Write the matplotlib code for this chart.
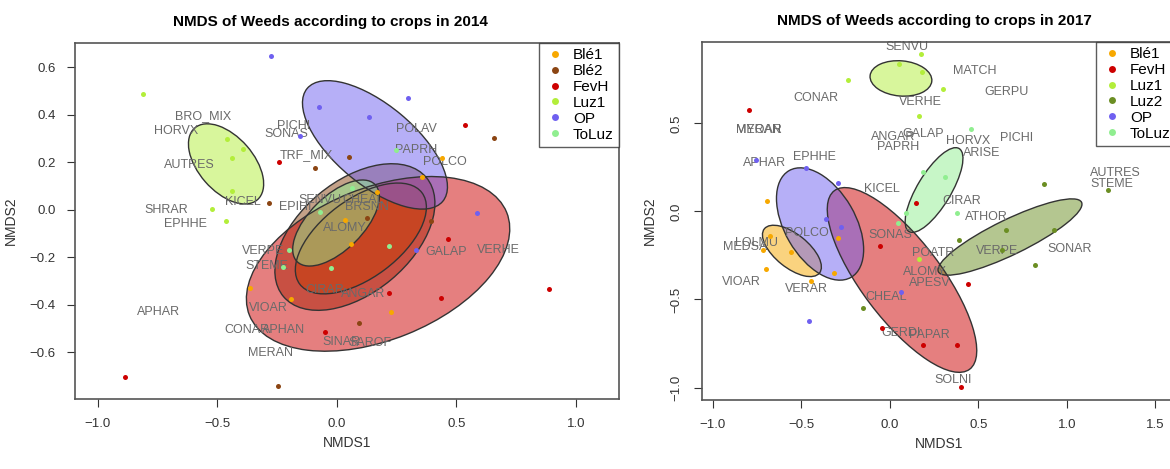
import matplotlib
matplotlib.use("Agg")
import matplotlib.pyplot as plt
from matplotlib.patches import Ellipse
from matplotlib.lines import Line2D

plt.rcParams['font.family'] = ['Liberation Sans', 'DejaVu Sans']

COLORS = {'Blé1': '#F7A800', 'Blé2': '#8B4513', 'FevH': '#CD0000',
          'Luz1': '#B3EE3A', 'Luz2': '#6B8E23', 'OP': '#6F60F0',
          'ToLuz': '#90EE90'}

# ---- 2014 ----
groups_2014 = ['Blé1', 'Blé2', 'FevH', 'Luz1', 'OP', 'ToLuz']
site_grp_2014 = (['Blé1'] * 8 + ['Blé2'] * 8 + ['FevH'] * 8 + ['Luz1'] * 7
                 + ['OP'] * 7 + ['ToLuz'] * 7)
site_x_2014 = [0.441, 0.354, 0.169, 0.033, 0.059, -0.364, -0.193, 0.226,
               -0.285, -0.092, 0.05, 0.658, 0.124, 0.392, 0.093, -0.245,
               -0.243, 0.536, 0.464, 0.219, 0.437, 0.888, -0.05, -0.886,
               -0.812, -0.46, -0.395, -0.438, -0.44, -0.523, -0.464,
               -0.275, -0.155, -0.077, 0.133, 0.298, 0.585, 0.329,
               0.245, 0.061, -0.071, -0.2, -0.227, -0.026, 0.216]
site_y_2014 = [0.22, 0.138, 0.074, -0.042, -0.143, -0.33, -0.375, -0.428,
               0.03, 0.175, 0.224, 0.302, -0.035, -0.045, -0.476, -0.74,
               0.202, 0.358, -0.121, -0.348, -0.372, -0.333, -0.515, -0.703,
               0.49, 0.30, 0.257, 0.22, 0.08, 0.003, -0.045,
               0.65, 0.31, 0.434, 0.393, 0.473, -0.011, -0.17,
               0.253, 0.091, -0.007, -0.17, -0.239, -0.246, -0.152]

# ellipses (group order)
ell_x_2014 = [0.10, 0.075, 0.172, -0.464, 0.159, -0.004]
ell_y_2014 = [-0.12, -0.114, -0.227, 0.194, 0.274, -0.055]
ell_w_2014 = [0.64, 0.78, 1.16, 0.40, 0.74, 0.46]
ell_h_2014 = [0.33, 0.47, 0.64, 0.23, 0.336, 0.226]
ell_a_2014 = [37, 40, 22, -49, -40, 45]

species_2014 = ['BRO_MIX', 'HORVX', 'PICHI', 'SONAS', 'AUTRES', 'TRF_MIX',
                'SHRAR', 'EPHHE', 'KICEL', 'EPIHI', 'SENVU', 'CHEAL', 'BRSNN',
                'ALOMY', 'POLAV', 'PAPRH', 'POLCO', 'GALAP', 'VERHE', 'VERPE',
                'STEME', 'CIRAR', 'ANGAR', 'VIOAR', 'CONAR', 'APHAN', 'MERAN',
                'APHAR', 'SINAR', 'SAROF']
sp_x_2014 = [-0.562, -0.671, -0.183, -0.21, -0.618, -0.127, -0.713, -0.632,
             -0.395, -0.175, -0.071, 0.11, 0.124, 0.033, 0.333, 0.333, 0.452,
             0.459, 0.675, -0.308, -0.294, -0.05, 0.11, -0.287, -0.378,
             -0.225, -0.28, -0.748, 0.02, 0.14]
sp_y_2014 = [0.396, 0.333, 0.355, 0.32, 0.189, 0.229, 0.0, -0.059, 0.032,
             0.013, 0.042, 0.042, 0.011, -0.077, 0.34, 0.253, 0.202, -0.178,
             -0.168, -0.171, -0.234, -0.337, -0.355, -0.414, -0.505, -0.505,
             -0.604, -0.428, -0.554, -0.561]

# ---- 2017 ----
groups_2017 = ['Blé1', 'FevH', 'Luz1', 'Luz2', 'OP', 'ToLuz']
site_grp_2017 = (['Blé1'] * 8 + ['FevH'] * 8 + ['Luz1'] * 7 + ['Luz2'] * 8
                 + ['OP'] * 7 + ['ToLuz'] * 6)
site_x_2017 = [-0.693, -0.678, -0.716, -0.559, -0.295, -0.702, -0.446, -0.315,
               -0.797, 0.147, -0.056, -0.047, 0.439, 0.185, 0.38, 0.404,
               -0.235, 0.051, 0.173, 0.183, 0.298, 0.166, 0.164,
               0.87, 1.232, 0.655, 0.927, 0.392, 0.635, 0.819, -0.151,
               -0.759, -0.476, -0.295, -0.362, -0.277, -0.458, 0.06,
               0.456, 0.185, 0.311, 0.09, 0.047, 0.377]
site_y_2017 = [0.061, -0.139, -0.219, -0.232, -0.149, -0.328, -0.395, -0.351,
               0.575, 0.047, -0.194, -0.66, -0.414, -0.76, -0.76, -0.995,
               0.747, 0.836, 0.893, 0.794, 0.694, 0.543, -0.27,
               0.155, 0.122, -0.105, -0.105, -0.162, -0.219, -0.306, -0.55,
               0.293, 0.249, 0.164, -0.044, -0.086, -0.62, -0.456,
               0.469, 0.226, 0.198, -0.007, -0.067, -0.01]

ell_x_2017 = [-0.554, 0.068, 0.062, 0.678, -0.395, 0.249]
ell_y_2017 = [-0.224, -0.389, 0.756, -0.145, -0.071, 0.122]
ell_w_2017 = [0.40, 1.27, 0.35, 0.90, 0.70, 0.55]
ell_h_2017 = [0.19, 0.45, 0.20, 0.20, 0.40, 0.19]
ell_a_2017 = [-39, -53, -5, 26, -60, 59]

species_2017 = ['SENVU', 'MATCH', 'GERPU', 'CONAR', 'VERHE', 'MERAN', 'MYOAR',
                'APHAR', 'EPHHE', 'ANGAR', 'GALAP', 'PAPRH', 'HORVX', 'ARISE',
                'PICHI', 'AUTRES', 'STEME', 'KICEL', 'CIRAR', 'ATHOR', 'VERPE',
                'SONAR', 'POLCO', 'LOLMU', 'MEDSA', 'VIOAR', 'VERAR', 'SONAS',
                'POATR', 'ALOMY', 'APESV', 'CHEAL', 'GERDI', 'PAPAR', 'SOLNI']
sp_x_2017 = [0.096, 0.48, 0.659, -0.42, 0.169, -0.744, -0.74, -0.706, -0.429,
             0.019, 0.188, 0.047, 0.442, 0.518, 0.716, 1.271, 1.252, -0.043,
             0.405, 0.546, 0.603, 1.017, -0.471, -0.753, -0.819, -0.838,
             -0.471, 0.0, 0.245, 0.198, 0.226, -0.019, 0.06, 0.22, 0.358]
sp_y_2017 = [0.934, 0.80, 0.679, 0.643, 0.624, 0.463, 0.463, 0.277, 0.311,
             0.425, 0.439, 0.365, 0.40, 0.33, 0.416, 0.217, 0.156, 0.128,
             0.061, -0.03, -0.223, -0.215, -0.124, -0.177, -0.203, -0.399,
             -0.442, -0.134, -0.238, -0.342, -0.408, -0.484, -0.69, -0.70,
             -0.957]


def draw_panel(ax, title, groups, grp, xs, ys, ex, ey, ew, eh, ea,
               species, spx, spy):
    for g, cx, cy, w, h, a in zip(groups, ex, ey, ew, eh, ea):
        ax.add_patch(Ellipse((cx, cy), w, h, angle=a, facecolor=COLORS[g],
                             alpha=0.5, edgecolor='none', zorder=1))
        ax.add_patch(Ellipse((cx, cy), w, h, angle=a, facecolor='none',
                             edgecolor='#333333', lw=1.0, zorder=1.5))
    for g in groups:
        px = [x for x, gg in zip(xs, grp) if gg == g]
        py = [y for y, gg in zip(ys, grp) if gg == g]
        ax.plot(px, py, 'o', ms=3.6, color=COLORS[g], mec='none', zorder=3)
    for s, x, y in zip(species, spx, spy):
        ax.text(x, y, s, fontsize=9, color='#6A6A6A', ha='center',
                va='center', zorder=2)
    handles = [Line2D([], [], marker='o', ls='none', ms=5, color=COLORS[g],
                      mec='none') for g in groups]
    leg = ax.legend(handles, groups, loc='upper right', fontsize=11,
                    frameon=True, fancybox=False, borderaxespad=0,
                    handletextpad=0.5, labelspacing=0.12, borderpad=0.35,
                    handlelength=1.4)
    leg.get_frame().set_edgecolor('#333333')
    leg.get_frame().set_linewidth(1.0)
    ax.set_title(title, fontsize=11, fontweight='bold', pad=12)
    ax.set_xlabel('NMDS1', fontsize=10, color='#333333')
    ax.set_ylabel('NMDS2', fontsize=10, color='#333333')
    ax.tick_params(direction='out', length=6, labelsize=9.5,
                   colors='#333333', pad=8)
    for sp in ax.spines.values():
        sp.set_color('#555555')
        sp.set_linewidth(1.2)


fig = plt.figure(figsize=(11.7, 4.69), dpi=100)

ax1 = fig.add_axes([75 / 1170, 1 - 399 / 469, 544 / 1170, 356 / 469])
draw_panel(ax1, 'NMDS of Weeds according to crops in 2014', groups_2014,
           site_grp_2014, site_x_2014, site_y_2014, ell_x_2014, ell_y_2014,
           ell_w_2014, ell_h_2014, ell_a_2014, species_2014,
           sp_x_2014, sp_y_2014)
ax1.set_xlim(-1.096, 1.18)
ax1.set_ylim(-0.796, 0.703)
ax1.set_xticks([-1.0, -0.5, 0.0, 0.5, 1.0])
ax1.set_yticks([-0.6, -0.4, -0.2, 0.0, 0.2, 0.4, 0.6])
ax1.yaxis.set_label_coords(-0.105, 0.5)
ax1.title.set_position((0.47, 1.0))

ax2 = fig.add_axes([702 / 1170, 1 - 400 / 469, 474 / 1170, 358 / 469])
draw_panel(ax2, 'NMDS of Weeds according to crops in 2017', groups_2017,
           site_grp_2017, site_x_2017, site_y_2017, ell_x_2017, ell_y_2017,
           ell_w_2017, ell_h_2017, ell_a_2017, species_2017,
           sp_x_2017, sp_y_2017)
ax2.set_xlim(-1.062, 1.616)
ax2.set_ylim(-1.071, 0.963)
ax2.set_xticks([-1.0, -0.5, 0.0, 0.5, 1.0, 1.5])
ax2.set_yticks([-1.0, -0.5, 0.0, 0.5])
for lab in ax2.get_yticklabels():
    lab.set_rotation(90)
    lab.set_va('center')
ax2.yaxis.set_label_coords(-0.095, 0.5)
ax2.title.set_position((0.49, 1.0))

fig.savefig('out.png', dpi=100)
